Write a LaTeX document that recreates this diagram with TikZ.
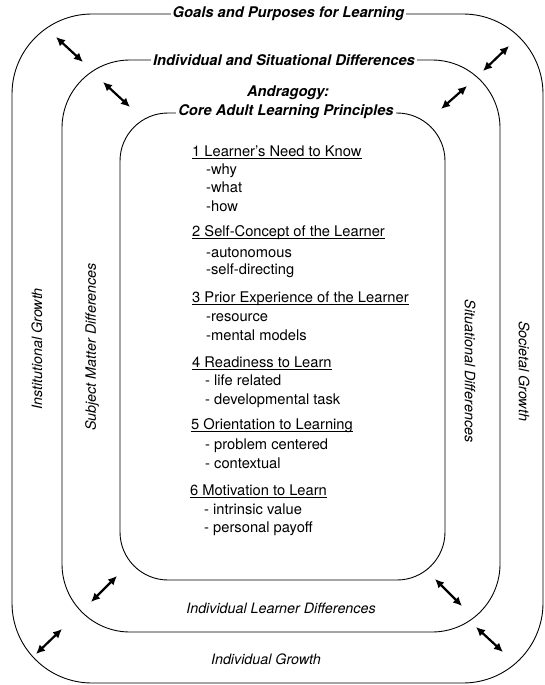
\documentclass[tikz,border=0pt]{standalone}
\usepackage{fontspec}
\setmainfont{TeX Gyre Heros}
\usetikzlibrary{arrows.meta}
\newcommand\hdrline[1]{\setbox0\hbox{#1}\rlap{\rule[-2.3pt]{\wd0}{0.7pt}}\box0}
\begin{document}
\begin{tikzpicture}[x=1pt,y=-1pt,
  ring/.style={draw, line width=0.9pt},
  ttl/.style={fill=white, inner xsep=2pt, inner ysep=2pt, font=\fontsize{14.7}{17}\selectfont\bfseries\itshape},
  lbl/.style={font=\fontsize{14.3}{17}\selectfont\itshape, inner sep=0pt},
  hd/.style={anchor=base west, inner sep=0pt, font=\fontsize{14.7}{17}\selectfont},
  itm/.style={anchor=base west, inner sep=0pt, font=\fontsize{14.7}{17}\selectfont},
  dbl/.style={{Latex[length=9pt,width=8.5pt]}-{Latex[length=9pt,width=8.5pt]}, line width=2.2pt}]
\useasboundingbox (0,0) rectangle (545,685);
% rings
\draw[ring, rounded corners=80pt] (12,14) rectangle (543,683);
\draw[ring, rounded corners=68pt] (62,60) rectangle (500,632);
\draw[ring, rounded corners=48pt] (120,113) rectangle (445,580);
% titles on the rings
\node[ttl] (goals) at (288.5,14) {Goals and Purposes for Learning};
\node[ttl] (isd) at (284,60) {Individual and Situational Differences};
\node[ttl, fill=none] (andr) at (288,93) {Andragogy:};
\node[ttl] (core) at (286,112) {Core Adult Learning Principles};
% side labels
\node[lbl, rotate=90] (inst) at (37,349) {Institutional Growth};
\node[lbl, rotate=90] (subj) at (92,347) {Subject Matter Differences};
\node[lbl, rotate=-90] (sit) at (470,371) {Situational Differences};
\node[lbl, rotate=-90] (soc) at (524,371) {Societal Growth};
\node[lbl] (ild) at (281,608) {Individual Learner Differences};
\node[lbl] (ig) at (266,659) {Individual Growth};
% principles
\node[hd] (h1) at (192,156) {\hdrline{1 Learner's Need to Know}};
\node[itm] (i11) at (206,174) {-why};
\node[itm] (i12) at (206,192) {-what};
\node[itm] (i13) at (206,211) {-how};
\node[hd] (h2) at (192,236) {\hdrline{2 Self-Concept of the Learner}};
\node[itm] (i21) at (206,257) {-autonomous};
\node[itm] (i22) at (206,274) {-self-directing};
\node[hd] (h3) at (192,302) {\hdrline{3 Prior Experience of the Learner}};
\node[itm] (i31) at (206,321) {-resource};
\node[itm] (i32) at (206,340) {-mental models};
\node[hd] (h4) at (192,367) {\hdrline{4 Readiness to Learn}};
\node[itm] (i41) at (205,385) {- life related};
\node[itm] (i42) at (205,404) {- developmental task};
\node[hd] (h5) at (191,429) {\hdrline{5 Orientation to Learning}};
\node[itm] (i51) at (205,449) {- problem centered};
\node[itm] (i52) at (205,468) {- contextual};
\node[hd] (h6) at (190,495) {\hdrline{6 Motivation to Learn}};
\node[itm] (i61) at (204,514) {- intrinsic value};
\node[itm] (i62) at (204,532) {- personal payoff};
% arrows
\coordinate (a1s) at (56,37);  \coordinate (a1e) at (83,62);
\coordinate (a2s) at (103,82); \coordinate (a2e) at (130,107);
\coordinate (a3s) at (509,46); \coordinate (a3e) at (483,71);
\coordinate (a4s) at (467,86); \coordinate (a4e) at (441,109);
\coordinate (a5s) at (117,576); \coordinate (a5e) at (91,602);
\coordinate (a6s) at (62,629); \coordinate (a6e) at (36,654);
\coordinate (a7s) at (435,579); \coordinate (a7e) at (462,606);
\coordinate (a8s) at (476,627); \coordinate (a8e) at (503,652);
\foreach \k in {1,...,8} {\draw[dbl] (a\k s) -- (a\k e);}
\end{tikzpicture}
\end{document}
